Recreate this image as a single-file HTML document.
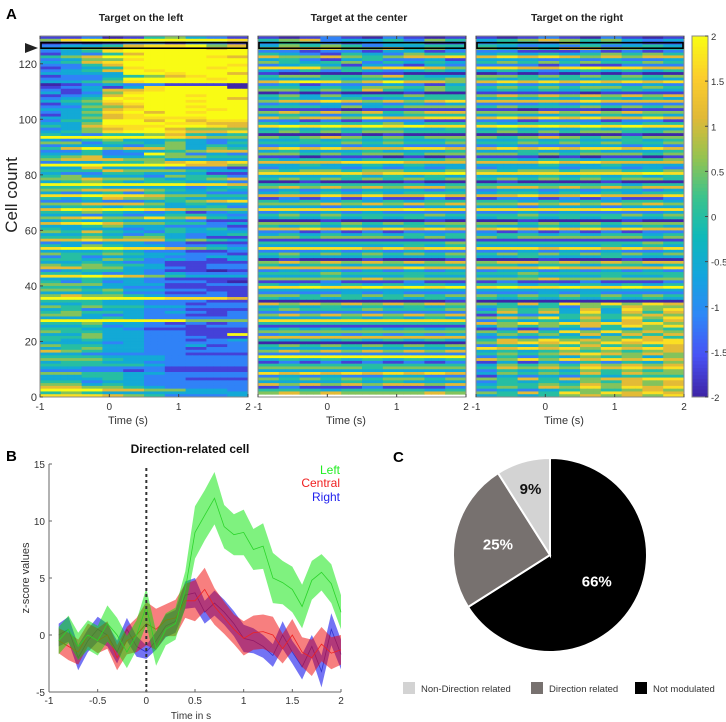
<!DOCTYPE html>
<html><head><meta charset="utf-8">
<style>
html,body{margin:0;padding:0;background:#fff;}
svg{display:block;font-family:"Liberation Sans",Arial,sans-serif;}
</style></head>
<body>
<svg id="fig" width="726" height="722" viewBox="0 0 726 722" xmlns="http://www.w3.org/2000/svg">
<g id="panelA"></g>
<g id="panelB"></g>
<g id="panelC"></g>
</svg>
<script>
// ---------- Panel A data (rows listed top-down, row 129 first; digits 0-8 => z -2..2, each digit = 3 time bins) ----------
const heatTimes = [-1, 0, 1, 2];
const cellTicks = [0, 20, 40, 60, 80, 100, 120];
const colorTicks = [2, 1.5, 1, 0.5, 0, -0.5, -1, -1.5, -2];
const panelTitles = ["Target on the left", "Target at the center", "Target on the right"];
const leftRows = [
"1120145321","5788888887","0101221221","2334677856","3456888868","2347888888","1324688888","4568888876","2355788888","3467888888",
"2246888887","1234788878","2346878888","3333887886","1223456788","2224888878","3345788888","0123221110","1231378880","2136678888",
"3125788888","1236888788","2348788886","3457888788","1346788888","2255688788","3346788878","2357868788","1346788888","3356777788",
"2448868677","3358887766","4367778876","2356786555","3457887667",
"4324456434","8888887655","3245334323","5524435324","2333245343","4685665354","2242334566","3342285232","4563345544","5666553333","2334456767","8888888665","3363332221","4446555433","3224433311",
"4533325442","5565543456","3454344332","8888888776","4443333234","5566654343","3234243322","7787765544","4346554333","2232234567","5566653433","3443443342","6878876555","4454323123","3323234432","5675575643","3434333211","6786554423","3345332221","4333234342",
"5464324333","3343243234","4454553211","6676664543","2323322111","4354332232","7888776543","3334322112","5445433221","2423332233","4435423213","3343221111","5454431122","6655332122","2344321101","4432323222","7787654333","3343321111","4242322210","5553331122",
"4433221111","5545332211","3334221121","5655432221","8888887776","4443322211","3343322122","5454433222","3423322111","4544323212","5532322112","3334322222","8888888555","4453321212","3342322122","4433211111","5443322111","3353322118","4453322211","4343322123",
"3332322222","5443322312","3453322122","6543322222","3322222111","4443332222","5554332222","3443322222","4444432222","3322221111","2222121111","5544332222","3344322222","3334322111","4423322222","5534322222","6655432222","8886655332","4543333333","7776542223"];
const centerRows = [
"1012102101","4562334254","2432123411",
"3545423344","5667556453","2212213312","4321432544","6556545667","3421342231","5434524343","2343132132","7775467765",
"3242432343","1000011000","4554456433","3334343445","6787568665","2312223213","4434355454","5545464354","0101000100",
"4535344544","3433423344","5667656567","2323232323","4443534555","1111011111","5656564566","3432343444","6566576677",
"2212122211","4344445344","7878787877","3434344334","4545455444","0000101000","5456545455","3343434334","4444545445",
"2323233222","6767666776","3433343334","5545455455","1101110101","4344344445","6666777666","3343343433","2333232323",
"5455455445","7777767778","3333434343","4545454545","0010000100","4444444434","5656565665","2323233323","3434343444",
"6667676676","1212121121","4343434344","5556565656","3332333233","7777777877","2323232222","4545444454","3434343433",
"0001000010","5554545455","4343433434","6676767676","2212121222","3434343434","5545555454","1111111111","4444444445",
"3333333434","7777767677","2223232322","4545454545","3433343334","0100010001","5656565656","4344344344","6666666766",
"2323232323","4445444444","3334333433","5555565555","1112111211","4343434343","7787787878","3333333333","2222323222",
"5545454545","4343434343","0000000001","6565656565","3434343434","4544454445","2222222222","5656565656","3333434343",
"7777777777","4444444444","1111111111","3434343434","5555555555","2323232323","6666666666","4343434343","0000000000",
"4545454545","3333333333","5656565656","2222222222","8888888888","3434343434","1212121212","4444444444","5555545555",
"3333333333","7676767676","2323223322","5454545545","3333434333","6565656656","1211121112","4443444434","5656555565"];
const rightRows = [
"1012102101","3456545323","2432534211",
"4323242343","5454665544","2211121212","3434345454","6767656566","3332323223","4545454454","2221211222","7766787766",
"3432343434","0101010100","5545454545","4343434433","6767676767","2323233232","4545455454","3434343433","1111101111",
"5656565656","3434344343","6666676666","2223232222","4544454545","1101110111","5556565655","3433434343","6767676676",
"2212221221","4344434344","7878787877","3433343433","4545455445","0001000100","5456545455","3343433434","4454545445",
"2322233232","6767677676","3343343334","5545455545","1110101101","4434434445","6667676666","3334334333","2333233232",
"5455455445","7777777787","3334343434","4545454554","0100001000","4444444344","5665656566","2332323323","3443434344",
"6676676667","1221212112","4434343443","5565656565","3323332333","7777778777","2232322223","4454444545","3443434334",
"0010000100","5545454555","4334343343","6767676766","2121212122","3443434434","5455555545","1111111111","4444444454",
"3333334343","7776776767","2232323223","4545454545","3343334333","0001000100","5665656566","4434434434","6667666667",
"2332323232","4454444444","3343334334","5556555555","1211121112","4434343434","7877877878","3333333333","2223232222",
"5454545454","4343434343","0000000000",
"5464757576","3434254655","2545363757","4646373646","1323454565","5657464757","2434353646","6575767675","3545464757",
"1212324354","5464757565","3545363646","2323435464","4657565767","5676757677","2435464546","7676757676","3434545456",
"4545676565","2424354535","6575767676","1313242435","3545465656","4656576767","2434354545","3545464655","1323243444",
"5464656677","2434354656","3445465656","4546575767","2323454565","5464757676","3434565657"];

// ---------- Panel B data ----------
const bTimes = [-0.9,-0.8,-0.7,-0.6,-0.5,-0.4,-0.3,-0.2,-0.1,0,0.1,0.2,0.3,0.4,0.5,0.6,0.7,0.8,0.9,1.0,1.1,1.2,1.3,1.4,1.5,1.6,1.7,1.8,1.9,2.0];
const leftMean = [-0.5,0.5,-1,0,-0.5,1,0,-1.5,0,2.5,-1.2,0.5,1,4,9,10.5,12,9.5,8.8,9,7.5,7.8,5,4.6,4,2.5,4.8,5.5,4.5,2];
const leftErr = [1.2,1.2,1.2,1.3,1.3,1.6,1.5,1.4,1.3,1.6,1.5,1.4,1.4,1.6,2.3,2.2,2.3,1.9,1.8,2.0,1.8,2.0,2.2,1.9,2.0,1.9,1.7,1.6,1.7,1.5];
const centralMean = [-0.5,-1,-1.5,0,-0.5,0,-2,-0.5,0,1,0.5,1.3,1.5,3,3,4,2.5,1.5,0.5,-0.3,0.2,0.3,0,-1.2,0,-1.5,-2,-0.8,-1.6,-1.3];
const centralErr = [1.1,1.2,1.1,1.0,1.1,1.2,1.1,1.2,1.5,1.9,1.8,1.4,1.6,1.5,1.8,1.9,1.6,1.4,1.3,1.5,1.5,1.5,1.6,1.3,1.4,1.3,1.6,1.5,1.4,1.3];
const rightMean = [0,0.5,-2,-0.5,0.5,0,-1.5,0.5,-1,-1.5,-0.5,0.8,1.2,3.5,3.7,2,2.8,2,1,-0.3,-0.5,-1,-1.8,0,-1.5,-2.8,-1,-3.2,0.5,-1.7];
const rightErr = [1.0,1.1,1.1,1.0,1.1,1.0,1.0,1.0,0.9,0.6,0.8,1.0,1.0,1.2,1.3,1.0,1.1,1.1,1.1,1.2,1.1,1.0,1.0,1.2,1.0,1.1,1.0,1.4,1.4,1.3];
const bYTicks = [15,10,5,0,-5];
const bXTicks = [-1,-0.5,0,0.5,1,1.5,2];
const bXTickLabels = ["-1","-0.5","0","0.5","1","1.5","2"];

// ---------- Panel C data ----------
const pieLabels = ["Not modulated","Direction related","Non-Direction related"];
const pieValues = [66,25,9];
const legendOrder = ["Non-Direction related","Direction related","Not modulated"];

const NS = "http://www.w3.org/2000/svg";
function mk(tag, attrs, parent, text){
  const e = document.createElementNS(NS, tag);
  for (const k in attrs) e.setAttribute(k, attrs[k]);
  if (text !== undefined) e.textContent = text;
  parent.appendChild(e);
  return e;
}
const parulaStops = [[62,38,168],[72,82,245],[46,135,247],[20,165,222],[15,185,185],[60,195,140],[150,195,80],[225,185,55],[252,205,45],[249,251,20]];
function parula(t){
  t = Math.max(0, Math.min(1, t));
  const p = t*(parulaStops.length-1), i = Math.min(Math.floor(p), parulaStops.length-2), f = p-i;
  const a = parulaStops[i], b = parulaStops[i+1];
  return "rgb(" + [0,1,2].map(k => Math.round(a[k]+(b[k]-a[k])*f)).join(",") + ")";
}

// ---------- Panel A ----------
const A = document.getElementById("panelA");
const hmTop = 36, hmBottom = 397, hmW = 208, nRows = 130, nCols = 30;
const panelX = [40, 258, 476];
const allRows = [leftRows, centerRows, rightRows];
const rowH = (hmBottom - hmTop) / nRows;
function yCell(v){ return hmBottom - v * (hmBottom - hmTop) / nRows; }

const lblA = mk("text", {x:6, y:19, "font-size":15, "font-weight":"bold", fill:"#000"}, A, "A");



panelX.forEach((x0, p) => {
  const g = mk("g", {}, A);
  
  
  const xT = t => x0 + (t + 1) / 3 * hmW;
  const rows = allRows[p];
  const cw = hmW / nCols;
  rows.forEach((s, i) => {
    const y = hmTop + i * rowH;
    for (let c = 0; c < nCols; c++) {
      const d = parseInt(s[Math.floor(c / 3)] || "4", 10);
      const t = 0.5 + (d / 8 - 0.5) * 1.15;
      const r = mk("rect", {x:(x0 + c*cw).toFixed(2), y:y.toFixed(2), width:(cw+0.4).toFixed(2), height:(rowH+0.4).toFixed(2), fill:parula(t)}, g);
      
      
    }
  });
  const fr = mk("rect", {x:x0, y:hmTop, width:hmW, height:hmBottom-hmTop, fill:"none", stroke:"#888", "stroke-width":1}, g);
  
  
  const hb = mk("rect", {x:x0+1, y:yCell(127.6), width:hmW-2, height:(yCell(125.6)-yCell(127.6)), fill:"none", stroke:"#000", "stroke-width":1.6}, g);
  
  
  heatTimes.forEach(t => {
    mk("line", {x1:xT(t), x2:xT(t), y1:hmBottom, y2:hmBottom-3, stroke:"#444"}, g);
    mk("line", {x1:xT(t), x2:xT(t), y1:hmTop, y2:hmTop+3, stroke:"#444"}, g);
    const tl = mk("text", {x:xT(t), y:hmBottom+13, "font-size":10, "text-anchor":"middle", fill:"#333"}, g, String(t));
    
    
  });
  const xl = mk("text", {x:x0+88, y:424, "font-size":11, "text-anchor":"middle", fill:"#333"}, g, "Time (s)");
  
  
  const tt = mk("text", {x:x0+101, y:21, "font-size":10.5, "font-weight":"bold", "text-anchor":"middle", fill:"#222"}, g, panelTitles[p]);
  
  
});
cellTicks.forEach(v => {
  mk("line", {x1:40, x2:43, y1:yCell(v), y2:yCell(v), stroke:"#444"}, A);
  const tl = mk("text", {x:37, y:yCell(v)+4, "font-size":11, "text-anchor":"end", fill:"#333"}, A, String(v));
  
  
});
const yt = mk("text", {x:0, y:0, "font-size":17, "text-anchor":"middle", fill:"#222", transform:"translate(17,195) rotate(-90)"}, A, "Cell count");


const arrow = mk("polygon", {points:"25,43 38,48 25,53", fill:"#222"}, A);


const cbX = 692, cbW = 16;
const cbg = mk("g", {}, A);


for (let i = 0; i < 100; i++) {
  const y = hmTop + i * (hmBottom - hmTop) / 100;
  mk("rect", {x:cbX, y:y.toFixed(2), width:cbW, height:((hmBottom-hmTop)/100+0.5).toFixed(2), fill:parula(1 - i/99)}, cbg);
}
mk("rect", {x:cbX, y:hmTop, width:cbW, height:hmBottom-hmTop, fill:"none", stroke:"#888"}, cbg);
colorTicks.forEach(v => {
  const y = hmTop + (2 - v) / 4 * (hmBottom - hmTop);
  mk("line", {x1:cbX+cbW-3, x2:cbX+cbW, y1:y, y2:y, stroke:"#444"}, cbg);
  const tl = mk("text", {x:cbX+cbW+3, y:y+4, "font-size":9.5, fill:"#333"}, cbg, String(v));
  
  
});

// ---------- Panel B ----------
const B = document.getElementById("panelB");
const bx0 = 49, bx1 = 341, by0 = 692, by1 = 464;
const xB = t => bx0 + (t + 1) / 3 * (bx1 - bx0);
const yB = v => by0 - (v + 5) / 20 * (by0 - by1);
const lb = mk("text", {x:6, y:461, "font-size":15, "font-weight":"bold", fill:"#000"}, B, "B");


const series = [
  {name:"left", mean:leftMean, err:leftErr, fill:"rgba(0,230,0,0.5)", line:"#2bd42b"},
  {name:"central", mean:centralMean, err:centralErr, fill:"rgba(240,0,0,0.5)", line:"#e22"},
  {name:"right", mean:rightMean, err:rightErr, fill:"rgba(0,0,235,0.55)", line:"#33c"}
];
[series[2], series[1], series[0]].forEach(s => {
  const up = bTimes.map((t,i) => xB(t).toFixed(1)+","+yB(s.mean[i]+s.err[i]).toFixed(1));
  const dn = bTimes.map((t,i) => xB(t).toFixed(1)+","+yB(s.mean[i]-s.err[i]).toFixed(1)).reverse();
  const band = mk("polygon", {points:up.concat(dn).join(" "), fill:s.fill}, B);
  
  
  const ln = mk("polyline", {points:bTimes.map((t,i)=>xB(t).toFixed(1)+","+yB(s.mean[i]).toFixed(1)).join(" "), fill:"none", stroke:s.line, "stroke-width":0.8}, B);
  
  
});
const dash = mk("line", {x1:xB(0), x2:xB(0), y1:468, y2:by0, stroke:"#333", "stroke-width":2, "stroke-dasharray":"3,3"}, B);


mk("line", {x1:bx0, x2:bx0, y1:by1, y2:by0, stroke:"#666"}, B);
mk("line", {x1:bx0, x2:bx1, y1:by0, y2:by0, stroke:"#666"}, B);
bYTicks.forEach(v => {
  mk("line", {x1:bx0, x2:bx0+3, y1:yB(v), y2:yB(v), stroke:"#666"}, B);
  const tl = mk("text", {x:bx0-4, y:yB(v)+4, "font-size":10, "text-anchor":"end", fill:"#333"}, B, String(v));
  
  
});
bXTicks.forEach((t,i) => {
  mk("line", {x1:xB(t), x2:xB(t), y1:by0, y2:by0-3, stroke:"#666"}, B);
  const tl = mk("text", {x:xB(t), y:by0+12, "font-size":10, "text-anchor":"middle", fill:"#333"}, B, bXTickLabels[i]);
  
  
});
const bt = mk("text", {x:190, y:453, "font-size":12, "font-weight":"bold", "text-anchor":"middle", fill:"#111"}, B, "Direction-related cell");


const byl = mk("text", {x:0, y:0, "font-size":11, "text-anchor":"middle", fill:"#333", transform:"translate(29,578) rotate(-90)"}, B, "z-score values");


const bxl = mk("text", {x:191, y:719, "font-size":10, "text-anchor":"middle", fill:"#333"}, B, "Time in s");


[["Left","#22ee22",474],["Central","#f02020",487],["Right","#2222ee",501]].forEach(l => {
  const t = mk("text", {x:340, y:l[2], "font-size":12, "text-anchor":"end", fill:l[1]}, B, l[0]);
  
  
});

// ---------- Panel C ----------
const C = document.getElementById("panelC");
const lc = mk("text", {x:393, y:462, "font-size":15, "font-weight":"bold", fill:"#000"}, C, "C");


const cx = 550, cy = 555, R = 97;
const pieColors = {"Not modulated":"#000","Direction related":"#77716f","Non-Direction related":"#d3d3d3"};
const pieTextColor = {"Not modulated":"#fff","Direction related":"#fff","Non-Direction related":"#111"};
const total = pieValues.reduce((a,b)=>a+b,0);
let acc = 0;
pieValues.forEach((v,i) => {
  const a0 = acc/total*2*Math.PI, a1 = (acc+v)/total*2*Math.PI;
  acc += v;
  const p0 = [cx + R*Math.sin(a0), cy - R*Math.cos(a0)], p1 = [cx + R*Math.sin(a1), cy - R*Math.cos(a1)];
  const large = (a1-a0) > Math.PI ? 1 : 0;
  const sl = mk("path", {d:`M${cx},${cy} L${p0[0].toFixed(2)},${p0[1].toFixed(2)} A${R},${R} 0 ${large} 1 ${p1[0].toFixed(2)},${p1[1].toFixed(2)} Z`, fill:pieColors[pieLabels[i]], stroke:"#fff", "stroke-width":2}, C);
  
  
  const am = (a0+a1)/2, rr = v < 15 ? 0.72*R : 0.55*R;
  const lt = mk("text", {x:cx + rr*Math.sin(am), y:cy - rr*Math.cos(am) + 6, "font-size":15, "font-weight":"bold", "text-anchor":"middle", fill:pieTextColor[pieLabels[i]]}, C, v + "%");
  
  
});
const legX = [403, 531, 635];
legendOrder.forEach((n,i) => {
  const sw = mk("rect", {x:legX[i], y:682, width:12, height:12, fill:pieColors[n]}, C);
  
  
  const t = mk("text", {x:legX[i]+18, y:692, "font-size":9.5, fill:"#333"}, C, n);
  
  
});
</script>
</body></html>
